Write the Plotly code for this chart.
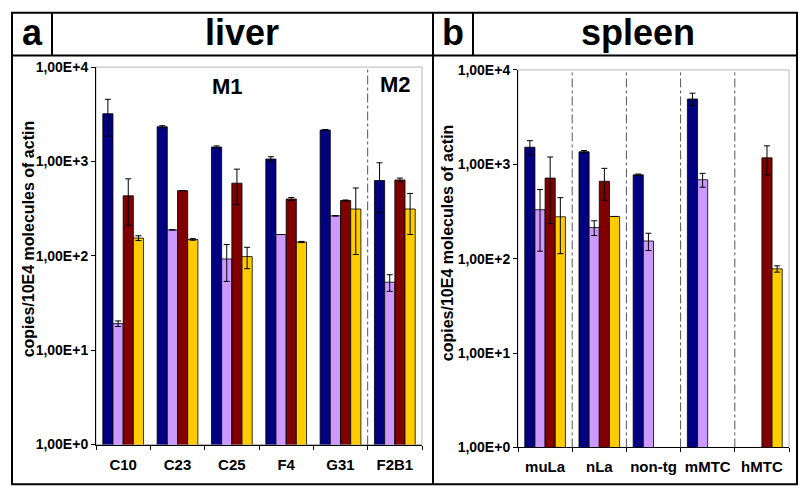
import plotly.graph_objects as go

W, H = 800, 498

# ---------------- data ----------------
liver_categories = ["C10", "C23", "C25", "F4", "G31", "F2B1"]
liver_blue = [3200, 2330, 1420, 1060, 2150, 627]
liver_blue_err = [1350, 60, 40, 60, 30, 340]
liver_purple = [19.1, 188, 92.5, 168, 265, 52.5]
liver_purple_err = [1.3, 0, 39, 0, 0, 10.5]
liver_maroon = [432, 490, 588, 400, 385, 636]
liver_maroon_err = [222, 0, 240, 15, 5, 30]
liver_yellow = [154, 149, 98, 140, 313, 313]
liver_yellow_err = [9, 3, 25, 2, 210, 145]

spleen_categories = ["muLa", "nLa", "non-tg", "mMTC", "hMTC"]
spleen_blue = [1520, 1360, 773, 4920, None]
spleen_blue_err = [260, 40, 15, 750, 0]
spleen_purple = [330, 214, 154, 687, None]
spleen_purple_err = [210, 38, 32, 115, 0]
spleen_maroon = [715, 661, None, None, 1170]
spleen_maroon_err = [480, 245, 0, 0, 400]
spleen_yellow = [278, 280, None, None, 78]
spleen_yellow_err = [165, 0, 0, 0, 6]

y_tickvals = [1, 10, 100, 1000, 10000]
y_ticktext = ["1,00E+0", "1,00E+1", "1,00E+2", "1,00E+3", "1,00E+4"]
y_title = "copies/10E4 molecules of actin"

colors = ["#000080", "#cc99ff", "#800000", "#ffcc00"]
series_names = ["series 1", "series 2", "series 3", "series 4"]

FONT = "Arial, Liberation Sans, sans-serif"


def px(x):
    return x / W


def py(y):
    return 1 - y / H


fig = go.Figure()

liver_series = [(liver_blue, liver_blue_err), (liver_purple, liver_purple_err),
                (liver_maroon, liver_maroon_err), (liver_yellow, liver_yellow_err)]
spleen_series = [(spleen_blue, spleen_blue_err), (spleen_purple, spleen_purple_err),
                 (spleen_maroon, spleen_maroon_err), (spleen_yellow, spleen_yellow_err)]

for i, (vals, errs) in enumerate(liver_series):
    fig.add_trace(go.Bar(
        x=liver_categories, y=vals, name=series_names[i],
        marker=dict(color=colors[i], line=dict(color="#000000", width=0.8)),
        error_y=dict(type="data", array=errs, visible=True, color="#000000",
                     thickness=1, width=3),
        xaxis="x", yaxis="y", showlegend=False, offsetgroup=str(i),
    ))

for i, (vals, errs) in enumerate(spleen_series):
    fig.add_trace(go.Bar(
        x=spleen_categories, y=vals, name=series_names[i],
        marker=dict(color=colors[i], line=dict(color="#000000", width=0.8)),
        error_y=dict(type="data", array=errs, visible=True, color="#000000",
                     thickness=1, width=3),
        xaxis="x2", yaxis="y2", showlegend=False, offsetgroup=str(i),
    ))

tickfont = dict(family=FONT, size=14, color="#000000", weight="bold")
xtickfont = dict(family=FONT, size=15, color="#000000", weight="bold")

yaxis_common = dict(
    type="log", range=[0, 4], tickvals=y_tickvals, ticktext=y_ticktext,
    ticks="outside", ticklen=4, tickcolor="#000000", showline=True,
    linecolor="#000000", linewidth=1, showgrid=False, zeroline=False,
    tickfont=tickfont,
)
xaxis_common = dict(
    type="category", ticks="outside", tickson="boundaries", ticklen=4,
    tickcolor="#000000", showline=True, linecolor="#000000", linewidth=1,
    showgrid=False, tickfont=xtickfont, tickangle=0, ticklabelstandoff=6,
)

fig.update_layout(
    width=W, height=H,
    margin=dict(l=0, r=0, t=0, b=0),
    paper_bgcolor="#ffffff", plot_bgcolor="#ffffff",
    barmode="group", bargap=0.25, bargroupgap=0,
    showlegend=False,
    xaxis=dict(domain=[px(96), px(422)], anchor="y", **xaxis_common),
    yaxis=dict(domain=[py(451), py(61)], anchor="x", **yaxis_common),
    xaxis2=dict(domain=[px(518), px(789)], anchor="y2", **xaxis_common),
    yaxis2=dict(domain=[py(454), py(64)], anchor="x2", **yaxis_common),
)

shapes = []
# light gray plot frames
for xr, yr in (("x domain", "y domain"), ("x2 domain", "y2 domain")):
    shapes.append(dict(type="rect", xref=xr, yref=yr, x0=0, x1=1, y0=0, y1=1,
                       line=dict(color="#b8b8b8", width=1), layer="below"))
# dash-dot separators
shapes.append(dict(type="line", xref="x", yref="y domain", x0=4.5, x1=4.5, y0=0, y1=1,
                   line=dict(color="#555555", width=1, dash="dashdot")))
for b in [0.5, 1.5, 2.5, 3.5]:
    shapes.append(dict(type="line", xref="x2", yref="y2 domain", x0=b, x1=b, y0=0, y1=1,
                       line=dict(color="#555555", width=1, dash="dashdot")))
# outer panel boxes
blk = dict(color="#000000", width=2)
shapes.append(dict(type="rect", xref="paper", yref="paper", x0=px(12), x1=px(797),
                   y0=py(492), y1=py(5), line=blk))
shapes.append(dict(type="line", xref="paper", yref="paper", x0=px(433), x1=px(433),
                   y0=py(492), y1=py(5), line=blk))
shapes.append(dict(type="line", xref="paper", yref="paper", x0=px(12), x1=px(797),
                   y0=py(49), y1=py(49), line=blk))
shapes.append(dict(type="line", xref="paper", yref="paper", x0=px(52), x1=px(52),
                   y0=py(49), y1=py(5), line=blk))
shapes.append(dict(type="line", xref="paper", yref="paper", x0=px(473), x1=px(473),
                   y0=py(49), y1=py(5), line=blk))
fig.update_layout(shapes=shapes)

big = dict(family=FONT, size=36, color="#000000", weight="bold")
annotations = [
    dict(text="a", x=px(32), y=py(25), font=big),
    dict(text="liver", x=px(242), y=py(25), font=big),
    dict(text="b", x=px(453), y=py(25), font=big),
    dict(text="spleen", x=px(638), y=py(25), font=big),
    dict(text="M1", x=px(228), y=py(81), font=dict(family=FONT, size=22, color="#000000", weight="bold")),
    dict(text="M2", x=px(395), y=py(79), font=dict(family=FONT, size=22, color="#000000", weight="bold")),
    dict(text=y_title, x=px(28), y=py(239), textangle=-90,
         font=dict(family=FONT, size=16, color="#000000", weight="bold")),
    dict(text=y_title, x=px(447), y=py(243), textangle=-90,
         font=dict(family=FONT, size=16, color="#000000", weight="bold")),
]
for a in annotations:
    a.update(xref="paper", yref="paper", showarrow=False, xanchor="center", yanchor="middle")
fig.update_layout(annotations=annotations)

fig.write_html(
    "out.html",
    config=dict(displayModeBar=False),
    post_script="document.body.style.margin='0';document.body.style.padding='0';"
                "document.body.style.overflow='hidden';",
)
